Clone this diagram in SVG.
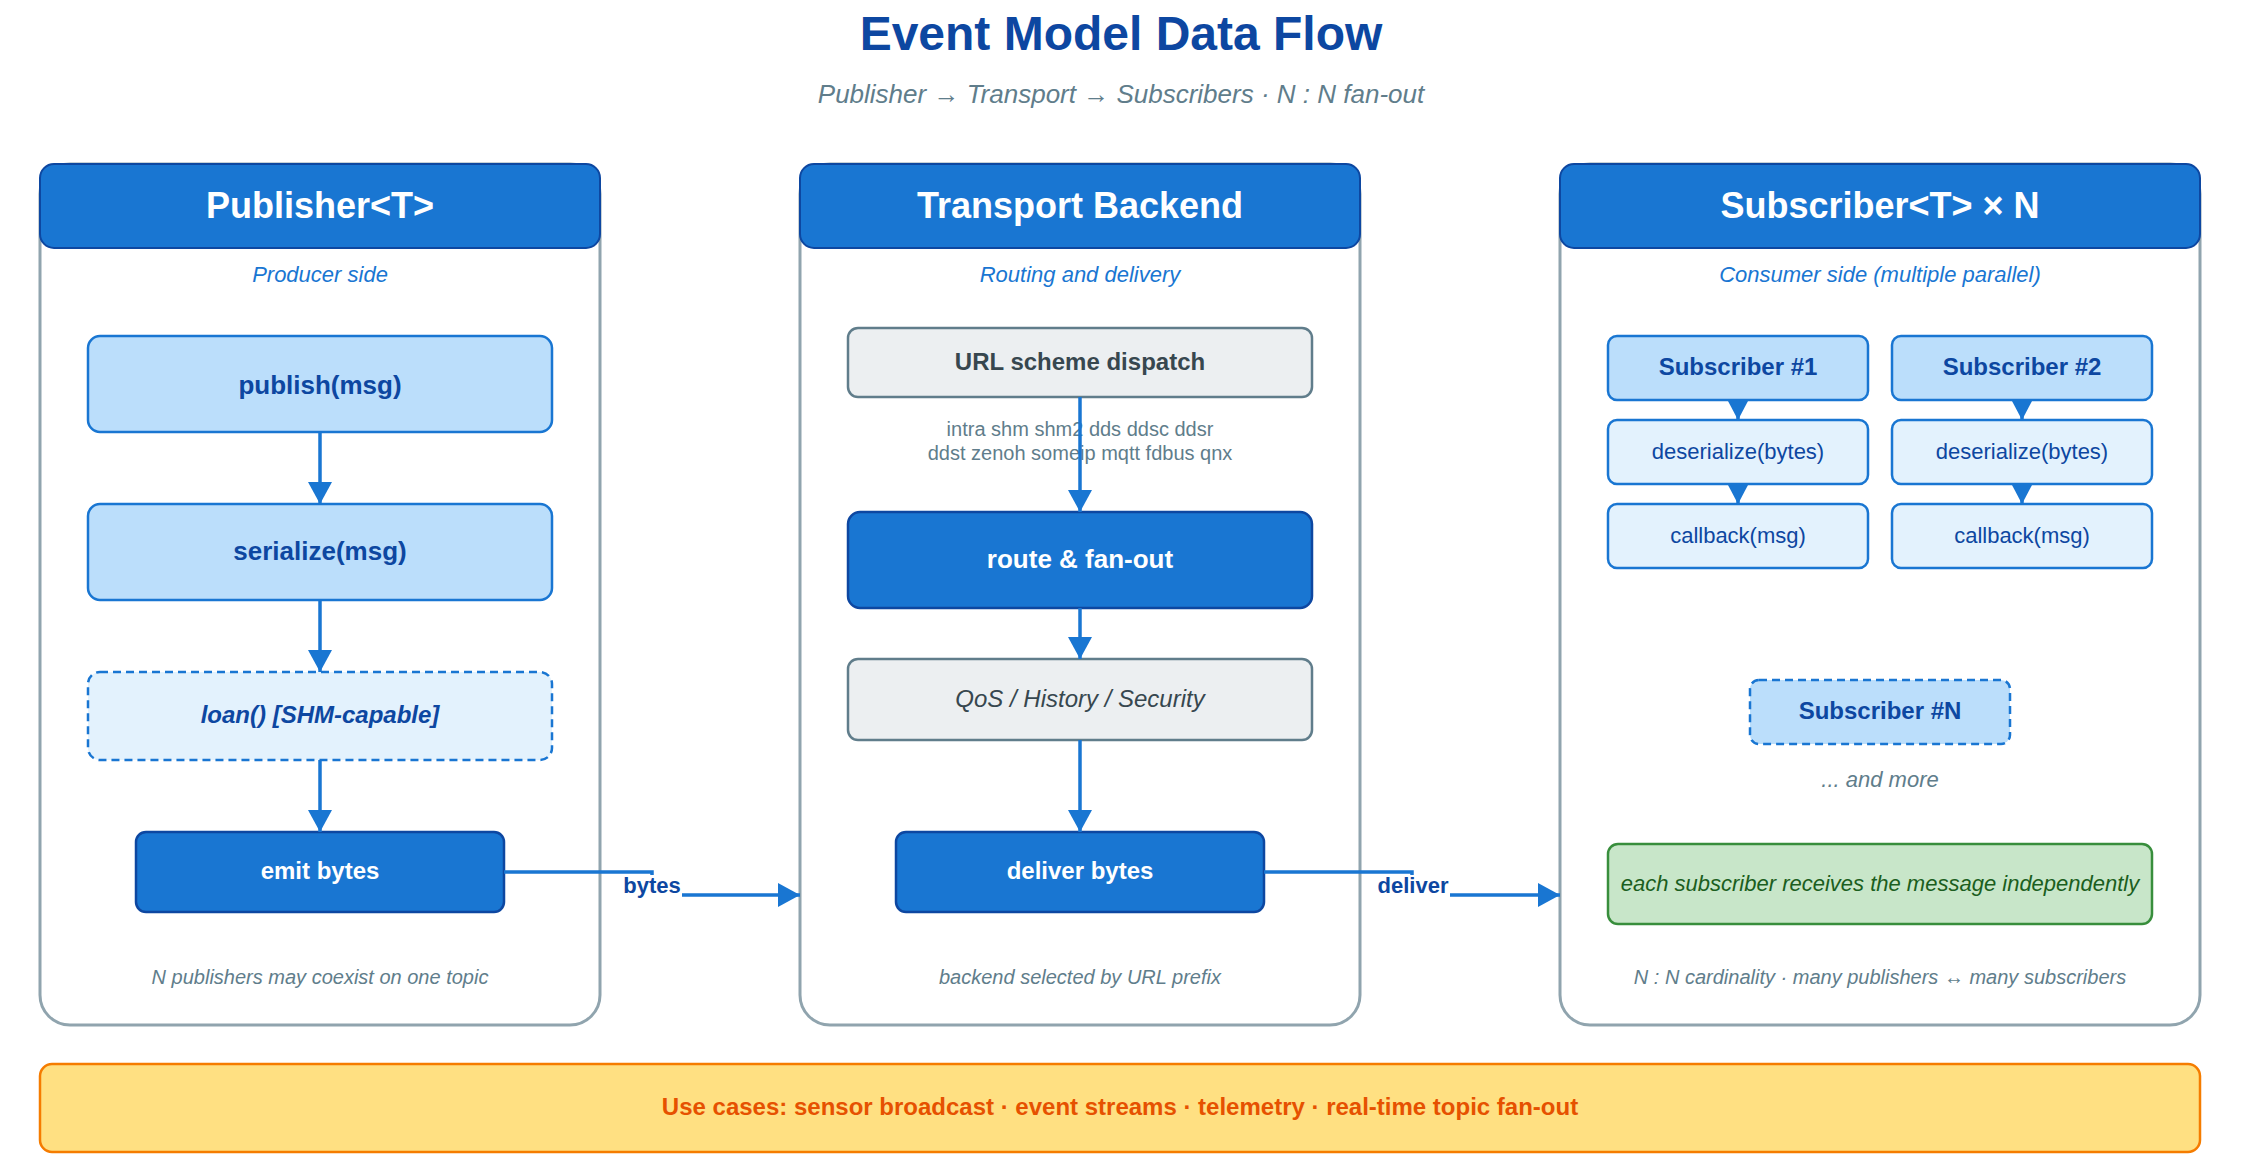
<svg xmlns="http://www.w3.org/2000/svg" width="2242" height="1156" viewBox="0 0 2242 1156">
<defs>
<style>
text{font-family:"Liberation Sans",Arial,Helvetica,sans-serif;text-anchor:middle}
.title{font-size:48px;font-weight:bold;fill:#0D47A1}
.subtitle{font-size:26px;font-style:italic;fill:#607D8B}
.panel{fill:#FFFFFF;stroke:#90A4AE;stroke-width:3}
.head{fill:#1976D2;stroke:#0D47A1;stroke-width:2}
.headtxt{font-size:36px;font-weight:bold;fill:#FFFFFF}
.sub{font-size:22px;font-style:italic;fill:#1976D2}
.note{font-size:20px;font-style:italic;fill:#607D8B}
.light{fill:#BBDEFB;stroke:#1976D2;stroke-width:2.5}
.pale{fill:#E3F2FD;stroke:#1976D2;stroke-width:2.5}
.dash{stroke-dasharray:8 5}
.dark{fill:#1976D2;stroke:#0D47A1;stroke-width:2.5}
.grey{fill:#ECEFF1;stroke:#607D8B;stroke-width:2.5}
.t26{font-size:26px;font-weight:bold;fill:#0D47A1}
.t24{font-size:24px;font-weight:bold;fill:#0D47A1}
.w26{font-size:26px;font-weight:bold;fill:#FFFFFF}
.w24{font-size:24px;font-weight:bold;fill:#FFFFFF}
.reg22{font-size:22px;fill:#0D47A1}
.proto{font-size:20px;fill:#607D8B}
.conn{fill:none;stroke:#1976D2;stroke-width:3.5}
.lbl{font-size:22px;font-weight:bold;fill:#0D47A1}
</style>
<marker id="arrV" markerUnits="userSpaceOnUse" markerWidth="22" markerHeight="24" viewBox="0 0 22 24" refX="22" refY="12" orient="auto">
<path d="M0,0 L22,12 L0,24 z" fill="#1976D2"/>
</marker>
<marker id="arrS" markerUnits="userSpaceOnUse" markerWidth="19" markerHeight="20" viewBox="0 0 19 20" refX="19" refY="10" orient="auto">
<path d="M0,0 L19,10 L0,20 z" fill="#1976D2"/>
</marker>
</defs>
<rect width="2242" height="1156" fill="#FFFFFF"/>
<text class="title" x="1121" y="50">Event Model Data Flow</text>
<text class="subtitle" x="1121" y="103">Publisher → Transport → Subscribers · N : N fan-out</text>

<g id="publisher-panel">
<rect class="panel" x="40" y="164" width="560" height="861" rx="30"/>
<rect class="head" x="40" y="164" width="560" height="84" rx="14"/>
<text class="headtxt" x="320" y="218">Publisher&lt;T&gt;</text>
<text class="sub" x="320" y="282">Producer side</text>
<text class="note" x="320" y="984">N publishers may coexist on one topic</text>
</g>
<g id="transport-panel">
<rect class="panel" x="800" y="164" width="560" height="861" rx="30"/>
<rect class="head" x="800" y="164" width="560" height="84" rx="14"/>
<text class="headtxt" x="1080" y="218">Transport Backend</text>
<text class="sub" x="1080" y="282">Routing and delivery</text>
<text class="note" x="1080" y="984">backend selected by URL prefix</text>
</g>
<g id="subscriber-panel">
<rect class="panel" x="1560" y="164" width="640" height="861" rx="30"/>
<rect class="head" x="1560" y="164" width="640" height="84" rx="14"/>
<text class="headtxt" x="1880" y="218">Subscriber&lt;T&gt; × N</text>
<text class="sub" x="1880" y="282">Consumer side (multiple parallel)</text>
<text class="note" x="1880" y="984">N : N cardinality · many publishers ↔ many subscribers</text>
</g>

<g id="publish">
<rect class="light" x="88" y="336" width="464" height="96" rx="12"/>
<text class="t26" x="320" y="394">publish(msg)</text>
</g>
<g id="serialize">
<rect class="light" x="88" y="504" width="464" height="96" rx="12"/>
<text class="t26" x="320" y="560">serialize(msg)</text>
</g>
<g id="loan">
<rect class="pale dash" x="88" y="672" width="464" height="88" rx="12"/>
<text class="t24" x="320" y="723" font-style="italic">loan() [SHM-capable]</text>
</g>
<g id="emit">
<rect class="dark" x="136" y="832" width="368" height="80" rx="10"/>
<text class="w24" x="320" y="879">emit bytes</text>
</g>

<g id="url-dispatch">
<rect class="grey" x="848" y="328" width="464" height="69" rx="10"/>
<text class="t24" x="1080" y="370" style="fill:#37474F">URL scheme dispatch</text>
</g>
<g id="schemes">
<text class="proto" x="1080" y="436">intra shm shm2 dds ddsc ddsr</text>
<text class="proto" x="1080" y="460">ddst zenoh someip mqtt fdbus qnx</text>
</g>
<g id="route">
<rect class="dark" x="848" y="512" width="464" height="96" rx="12"/>
<text class="w26" x="1080" y="568">route &amp; fan-out</text>
</g>
<g id="qos">
<rect class="grey" x="848" y="659" width="464" height="81" rx="10"/>
<text x="1080" y="707" style="font-size:24px;font-style:italic;fill:#37474F">QoS / History / Security</text>
</g>
<g id="deliver">
<rect class="dark" x="896" y="832" width="368" height="80" rx="10"/>
<text class="w24" x="1080" y="879">deliver bytes</text>
</g>

<g id="sub1">
<rect class="light" x="1608" y="336" width="260" height="64" rx="9"/>
<text class="t24" x="1738" y="375">Subscriber #1</text>
</g>
<g id="sub1-deser">
<rect class="pale" x="1608" y="420" width="260" height="64" rx="9"/>
<text class="reg22" x="1738" y="459">deserialize(bytes)</text>
</g>
<g id="sub1-cb">
<rect class="pale" x="1608" y="504" width="260" height="64" rx="9"/>
<text class="reg22" x="1738" y="543">callback(msg)</text>
</g>
<g id="sub2">
<rect class="light" x="1892" y="336" width="260" height="64" rx="9"/>
<text class="t24" x="2022" y="375">Subscriber #2</text>
</g>
<g id="sub2-deser">
<rect class="pale" x="1892" y="420" width="260" height="64" rx="9"/>
<text class="reg22" x="2022" y="459">deserialize(bytes)</text>
</g>
<g id="sub2-cb">
<rect class="pale" x="1892" y="504" width="260" height="64" rx="9"/>
<text class="reg22" x="2022" y="543">callback(msg)</text>
</g>
<g id="subN">
<rect class="light dash" x="1750" y="680" width="260" height="64" rx="9"/>
<text class="t24" x="1880" y="719">Subscriber #N</text>
</g>
<g id="and-more">
<text x="1880" y="787" style="font-size:22px;font-style:italic;fill:#607D8B">... and more</text>
</g>
<g id="independent">
<rect x="1608" y="844" width="544" height="80" rx="10" fill="#C8E6C9" stroke="#388E3C" stroke-width="2.5"/>
<text x="1880" y="891" style="font-size:22px;font-style:italic;fill:#1B5E20">each subscriber receives the message independently</text>
</g>

<g id="connectors">
<path class="conn" d="M320,432 V504" marker-end="url(#arrV)"/>
<path class="conn" d="M320,600 V672" marker-end="url(#arrV)"/>
<path class="conn" d="M320,760 V832" marker-end="url(#arrV)"/>
<path class="conn" d="M1080,397 V512" marker-end="url(#arrV)"/>
<path class="conn" d="M1080,608 V659" marker-end="url(#arrV)"/>
<path class="conn" d="M1080,740 V832" marker-end="url(#arrV)"/>
<path class="conn" d="M1738,400 V420" marker-end="url(#arrS)"/>
<path class="conn" d="M1738,484 V504" marker-end="url(#arrS)"/>
<path class="conn" d="M2022,400 V420" marker-end="url(#arrS)"/>
<path class="conn" d="M2022,484 V504" marker-end="url(#arrS)"/>
<path class="conn" d="M504,872 H652 V895 H800" marker-end="url(#arrV)"/>
<rect x="623" y="875" width="59" height="26" fill="#FFFFFF"/>
<text class="lbl" x="652" y="893">bytes</text>
<path class="conn" d="M1264,872 H1412 V895 H1560" marker-end="url(#arrV)"/>
<rect x="1376" y="875" width="74" height="26" fill="#FFFFFF"/>
<text class="lbl" x="1413" y="893">deliver</text>
</g>

<g id="use-cases">
<rect x="40" y="1064" width="2160" height="88" rx="12" fill="#FFE082" stroke="#F57C00" stroke-width="2.5"/>
<text x="1120" y="1115" style="font-size:24px;font-weight:bold;fill:#E65100">Use cases: sensor broadcast · event streams · telemetry · real-time topic fan-out</text>
</g>
</svg>
